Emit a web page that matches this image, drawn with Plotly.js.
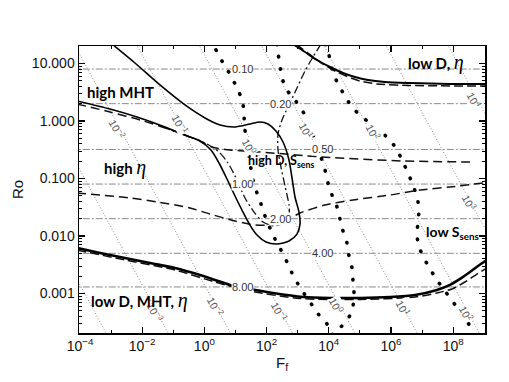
<!DOCTYPE html>
<html><head><meta charset="utf-8">
<script src="https://cdn.plot.ly/plotly-3.0.1.min.js"></script>
<style>body{margin:0;background:#fff}#chart{width:509px;height:382px}</style>
</head><body><div id="chart"></div>
<script>
// ---------- axis ticks ----------
const xTickVals = [1e-4, 1e-2, 1, 1e2, 1e4, 1e6, 1e8];
const xTickText = ['10<sup>−4</sup>', '10<sup>−2</sup>', '10<sup>0</sup>', '10<sup>2</sup>', '10<sup>4</sup>', '10<sup>6</sup>', '10<sup>8</sup>'];
const yTickVals = [0.001, 0.01, 0.1, 1, 10];
const yTickText = ['0.001', '0.010', '0.100', '1.000', '10.000'];

// ---------- reference lines ----------
// grey dash-dot horizontal lines (Ro values) and their labels
const levelRo = [8, 2, 0.32, 0.08, 0.02, 0.005, 0.0013];
const levelText = ['0.10', '0.20', '0.50', '1.00', '2.00', '4.00', '8.00'];
const levelLabelF = [17.4, 270, 6500, 16.6, 270, 6500, 17.4];

// grey dotted diagonal lines: constant F*Ro products
const diagProduct = [1.41e-7, 1.41e-5, 1.41e-3, 0.141, 14.1, 1410, 1.41e5, 1.41e7, 1.41e9];
const diagRoEnds = [30, 1e-4];
const diagLabelText = ['10<sup>−2</sup>', '10<sup>−1</sup>', '10<sup>0</sup>', '10<sup>1</sup>', '10<sup>2</sup>', '10<sup>4</sup>', '10<sup>3</sup>',
  '10<sup>−3</sup>', '10<sup>−2</sup>', '10<sup>−1</sup>', '10<sup>0</sup>', '10<sup>1</sup>', '10<sup>2</sup>'];
const diagLabelF = [1.55e-3, 0.164, 29.2, 1990, 2.64e5, 4.67e8, 3.47e8, 0.0258, 2.36, 270, 1.84e4, 2.43e6, 2.78e8];
const diagLabelRo = [0.726, 0.887, 0.367, 0.697, 0.644, 2.32, 0.039, 4.77e-4, 6.06e-4, 4.96e-4, 6.3e-4, 5.6e-4, 4.58e-4];

// ---------- curves ----------
// main solid contour (top edge -> tongue -> left edge)
const mainSolidF = [1.05e-3, 5.86e-3, 0.0373, 0.238, 1.045, 3.18, 9.64, 29.2, 61.4, 111, 200, 337, 525, 656, 819, 1100, 1190, 949, 525, 216, 95.7, 49.1, 29.2, 17.4, 9.64, 5.33, 2.95, 1.63, 0.723, 0.276, 0.054, 6.81e-3, 9.23e-4, 8.0e-5];
const mainSolidRo = [22, 10.2, 4.23, 1.90, 1.13, 0.852, 0.787, 0.887, 0.961, 0.887, 0.670, 0.431, 0.210, 0.102, 0.0477, 0.0261, 0.0162, 0.0108, 0.00818, 0.00726, 0.00787, 0.0104, 0.0155, 0.0261, 0.0496, 0.098, 0.186, 0.313, 0.449, 0.548, 0.787, 1.174, 1.617, 2.228];

// upper dashed curve
const upperDashF = [8.0e-5, 9.23e-4, 8.49e-3, 0.1315, 0.723, 1.754, 6.65, 61.4, 6040, 2.43e6, 3.47e8];
const upperDashRo = [1.977, 1.434, 1.041, 0.644, 0.449, 0.353, 0.313, 0.289, 0.2366, 0.2016, 0.1936];

// lower dashed curve
const lowerDashF = [8.0e-5, 4.06e-3, 0.0322, 0.344, 1.514, 9.64, 42.4, 128.6, 391, 1190, 7550, 6.0e4, 9.29e5, 8.55e6, 7.89e7, 9.08e8];
const lowerDashRo = [0.0560, 0.0458, 0.039, 0.0307, 0.0241, 0.01823, 0.0155, 0.0155, 0.01823, 0.0251, 0.0346, 0.0423, 0.0516, 0.0631, 0.0711, 0.0835];

// black dash-dot curve
const dashDotF = [5610, 3100, 1718, 949, 525, 313, 233, 233, 290, 391, 525, 525, 362, 173, 76.6, 39.4, 20.2, 10.4, 5.74, 2.95, 1.213, 0.344, 0.054];
const dashDotRo = [21.8, 12.97, 7.41, 3.75, 1.90, 1.041, 0.594, 0.313, 0.158, 0.0741, 0.0346, 0.0223, 0.01683, 0.01493, 0.0175, 0.0261, 0.0458, 0.102, 0.186, 0.289, 0.398, 0.527, 0.756];

// top-right "low D, eta" pair
const topSolidF = [706, 1718, 4180, 1.094e4, 2.86e4, 6.95e4, 1.82e5, 6.41e5, 4.08e6, 7.89e7, 1.22e9];
const topSolidRo = [21.8, 15.85, 11.5, 8.69, 6.84, 5.82, 5.16, 4.77, 4.58, 4.40, 4.40];
const topDashF = [881, 2140, 5210, 1.36e4, 3.57e4, 1.0e5, 3.55e5, 4.08e6, 1.22e9];
const topDashRo = [21.8, 15.2, 10.6, 7.71, 6.06, 4.96, 4.40, 4.14, 4.06];

// bottom "low D, MHT, eta" pair
const botSolidF = [8.0e-5, 4.40e-4, 2.80e-3, 0.0178, 0.1135, 0.723, 2.19, 6.65, 29.2, 161, 1480, 1.094e4, 1.0e5, 9.29e5, 5.92e6, 3.01e7, 7.89e7, 1.66e8, 3.47e8, 6.27e8, 1.22e9];
const botSolidRo = [6.18e-3, 5.06e-3, 4.14e-3, 3.39e-3, 2.78e-3, 2.10e-3, 1.72e-3, 1.41e-3, 1.20e-3, 1.02e-3, 8.69e-4, 8.35e-4, 8.35e-4, 8.69e-4, 9.42e-4, 1.15e-3, 1.41e-3, 1.79e-3, 2.37e-3, 3.01e-3, 3.83e-3];
const botDashF = [8.0e-5, 2.80e-3, 0.1135, 2.19, 29.2, 1190, 1.0e5, 5.92e6, 3.01e7, 9.14e7, 2.39e8, 5.82e8, 1.22e9];
const botDashRo = [5.71e-3, 3.83e-3, 2.56e-3, 1.585e-3, 1.105e-3, 8.18e-4, 7.86e-4, 8.69e-4, 1.02e-3, 1.20e-3, 1.585e-3, 2.18e-3, 2.78e-3];

// heavy dotted curves
const dot1F = [2.36, 3.18, 5.33, 8.31, 12.97, 17.4, 18.8, 20.2, 23.4, 29.2, 36.6, 49.1, 66.1, 88.9, 128.6, 186, 290, 453, 656, 1023, 1718, 2880, 4840, 8750, 1.36e4];
const dot1Ro = [17.2, 12.5, 8.02, 5.16, 3.19, 1.977, 1.222, 0.697, 0.383, 0.186, 0.0942, 0.0560, 0.0360, 0.0223, 0.01377, 8.87e-3, 5.71e-3, 3.53e-3, 2.27e-3, 1.46e-3, 9.42e-4, 6.31e-4, 4.23e-4, 2.95e-4, 1.90e-4];
const dot2F = [216, 233, 270, 313, 453, 819, 1374, 2140, 3600, 5610, 7550, 9420, 1.27e4, 1.84e4, 2.29e4, 2.86e4, 3.85e4, 4.47e4, 5.57e4, 6.0e4, 6.46e4, 6.0e4, 4.47e4, 2.47e4, 1.71e4];
const dot2Ro = [21.8, 15.2, 9.42, 5.60, 3.46, 2.32, 1.554, 0.961, 0.467, 0.2366, 0.1406, 0.0835, 0.0516, 0.0319, 0.0198, 0.01222, 7.55e-3, 4.49e-3, 2.78e-3, 1.65e-3, 1.02e-3, 6.06e-4, 3.90e-4, 2.61e-4, 1.90e-4];
const dot3F = [8130, 1.01e4, 1.36e4, 1.98e4, 3.32e4, 5.57e4, 1.08e5, 2.11e5, 4.43e5, 9.29e5, 1.56e6, 2.43e6, 3.52e6, 5.09e6, 6.86e6, 7.94e6, 7.38e6, 6.86e6, 7.94e6, 1.15e7, 1.79e7, 3.01e7, 5.06e7, 9.14e7, 1.53e8, 2.78e8, 4.34e8];
const dot3Ro = [21.8, 14.06, 7.11, 4.40, 2.72, 1.75, 1.222, 0.923, 0.670, 0.467, 0.313, 0.1936, 0.1247, 0.0771, 0.0477, 0.0295, 0.0175, 0.0104, 6.44e-3, 4.14e-3, 2.67e-3, 1.72e-3, 1.15e-3, 7.71e-4, 4.96e-4, 3.33e-4, 2.06e-4];

// region labels
const etaHtml = '<i><span style="font-family:\'Liberation Serif\';font-size:20px;font-weight:normal">η</span></i>';
const regionText = ['high MHT', 'high ' + etaHtml, 'low D, ' + etaHtml,
  'high D, S<sub>sens</sub>', 'low S<sub>sens</sub>', 'low D, MHT, ' + etaHtml];
const regionF = [1.56e-4, 5.5e-4, 3.27e6, 23.4, 1.24e7, 2.1e-4];
const regionRo = [3.19, 0.158, 10.6, 0.194, 0.0117, 7.7e-4];
const regionSize = [15, 15, 15, 12.5, 14, 15];

// ---------- build traces ----------
const traces = [];
function addLine(x, y, color, width, dash, shape) {
  traces.push({type: 'scatter', mode: 'lines', x: x, y: y, hoverinfo: 'skip',
    line: {color: color, width: width, dash: dash || 'solid', shape: shape || 'linear', smoothing: 0.7}});
}
levelRo.forEach(v => addLine([1e-6, 1e11], [v, v], '#8a8a8a', 1, '7px,2px,2px,2px'));
diagProduct.forEach(p => addLine(diagRoEnds.map(r => p / r), diagRoEnds, '#8a8a8a', 1, '1px,2px'));

addLine(upperDashF, upperDashRo, '#111', 1.5, '9px,5px', 'spline');
addLine(lowerDashF, lowerDashRo, '#111', 1.5, '9px,5px', 'spline');
addLine(dashDotF, dashDotRo, '#111', 1.3, '8px,3px,2px,3px', 'spline');
addLine(mainSolidF, mainSolidRo, '#000', 1.6, 'solid', 'spline');
addLine(topDashF, topDashRo, '#111', 1.5, '9px,4px', 'spline');
addLine(topSolidF, topSolidRo, '#000', 2, 'solid', 'spline');
addLine(botDashF, botDashRo, '#111', 1.5, '9px,4px', 'spline');
addLine(botSolidF, botSolidRo, '#000', 2.6, 'solid', 'spline');
addLine(dot1F, dot1Ro, '#000', 3.6, '0.5px,12px', 'spline');
addLine(dot2F, dot2Ro, '#000', 3.6, '0.5px,12px', 'spline');
addLine(dot3F, dot3Ro, '#000', 3.6, '0.5px,12px', 'spline');

// ---------- annotations ----------
const annotations = [];
levelText.forEach((t, i) => annotations.push({
  x: Math.log10(levelLabelF[i]), y: Math.log10(levelRo[i]), text: t, showarrow: false,
  xanchor: 'center', yanchor: 'middle', bgcolor: 'white', borderpad: 0,
  font: {family: 'Arial, Liberation Sans', size: 11, color: '#333'}}));
diagLabelText.forEach((t, i) => annotations.push({
  x: Math.log10(diagLabelF[i]), y: Math.log10(diagLabelRo[i]), text: t, showarrow: false,
  textangle: 61.6, xanchor: 'center', yanchor: 'middle', bgcolor: 'white', borderpad: 0,
  font: {family: 'Arial, Liberation Sans', size: 10.5, color: '#555'}}));
regionText.forEach((t, i) => annotations.push({
  x: Math.log10(regionF[i]), y: Math.log10(regionRo[i]), text: t, showarrow: false,
  xanchor: 'left', yanchor: 'middle', borderpad: 0,
  font: {family: 'Lato, Open Sans, sans-serif', size: regionSize[i], color: '#000', weight: 'bold'}}));

const axisCommon = {
  type: 'log', showline: true, linecolor: '#000', linewidth: 1.5, mirror: 'allticks',
  ticks: 'inside', ticklen: 6, tickwidth: 1.2, tickcolor: '#000', showgrid: false, zeroline: false,
  automargin: false, tickmode: 'array'
};
const layout = {
  width: 509, height: 382,
  margin: {l: 79, r: 24, t: 46, b: 49},
  paper_bgcolor: '#fff', plot_bgcolor: '#fff', showlegend: false,
  xaxis: Object.assign({}, axisCommon, {
    range: [-4.032, 9.023], tickvals: xTickVals, ticktext: xTickText,
    minor: {ticks: 'inside', ticklen: 3, tickwidth: 1, tickcolor: '#000', dtick: 1, showgrid: false},
    tickfont: {family: 'Arial, Liberation Sans', size: 14, color: '#111'},
    title: {text: 'F<sub>f</sub>', font: {family: 'Arial, Liberation Sans', size: 15, color: '#111'}, standoff: 0}
  }),
  yaxis: Object.assign({}, axisCommon, {
    range: [-3.687, 1.304], tickvals: yTickVals, ticktext: yTickText,
    minor: {ticks: 'inside', ticklen: 3, tickwidth: 1, tickcolor: '#000', dtick: 'D1', showgrid: false},
    tickfont: {family: 'Arial, Liberation Sans', size: 14, color: '#111'},
    title: {text: 'Ro', font: {family: 'Arial, Liberation Sans', size: 15, color: '#111'}, standoff: 4}
  }),
  annotations: annotations
};
Plotly.newPlot('chart', traces, layout, {displayModeBar: false, staticPlot: true}).then(() => {
  document.querySelectorAll('.scatterlayer .js-line').forEach(p => {
    const d = p.style.strokeDasharray || '';
    if (d.indexOf('0.5px') === 0) p.style.strokeLinecap = 'round';
  });
});
</script></body></html>
